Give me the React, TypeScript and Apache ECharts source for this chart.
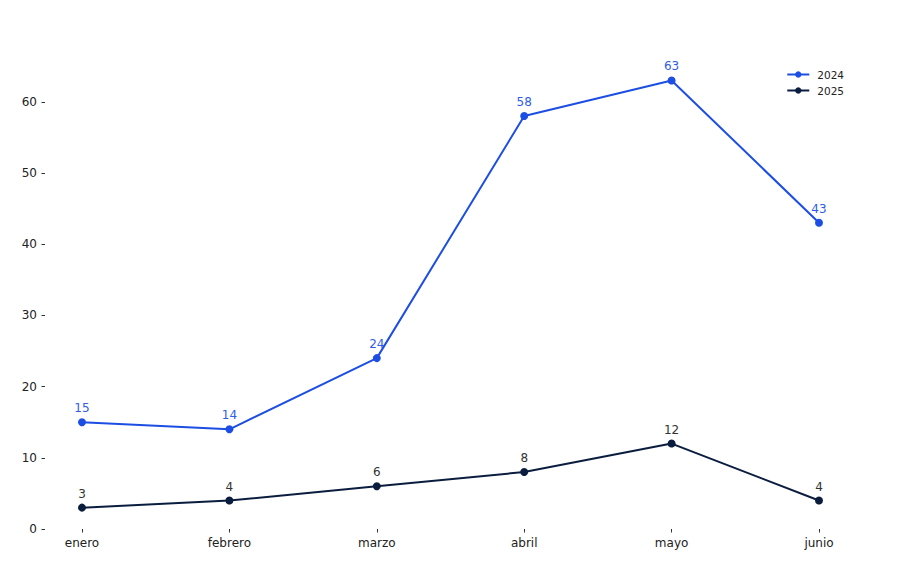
import React, { useEffect, useRef } from "react";
import * as echarts from "echarts";

const months = ["enero", "febrero", "marzo", "abril", "mayo", "junio"];
const values2024 = [15, 14, 24, 58, 63, 43];
const values2025 = [3, 4, 6, 8, 12, 4];
const yTicks = [0, 10, 20, 30, 40, 50, 60];

const FONT = "DejaVu Sans";

export default function App() {
  const ref = useRef<HTMLDivElement>(null);
  useEffect(() => {
    if (!ref.current) return;
    const chart = echarts.init(ref.current, null, { renderer: "svg" });
    chart.setOption({
      animation: false,
      backgroundColor: "#ffffff",
      textStyle: { fontFamily: FONT },
      legend: {
        right: 56,
        top: 64,
        orient: "vertical",
        itemWidth: 22,
        itemHeight: 8,
        itemGap: 5,
        textStyle: { fontFamily: FONT, fontSize: 10.5, color: "#222", padding: [0, 0, 0, 3] },
        data: ["2024", "2025"],
      },
      grid: { left: 82, right: 86, top: 58, bottom: 58 },
      xAxis: {
        type: "category",
        data: months,
        boundaryGap: false,
        axisLine: { show: false },
        axisTick: { show: true, length: 3.5, lineStyle: { color: "#333" } },
        axisLabel: { fontFamily: FONT, fontSize: 12, color: "#222", margin: 8 },
        splitLine: { show: false },
      },
      yAxis: {
        type: "value",
        min: 0,
        max: 66.15,
        interval: 10,
        offset: 37,
        axisLine: { show: false },
        axisTick: { show: true, length: 3.5, lineStyle: { color: "#333" }, customValues: yTicks },
        axisLabel: { fontFamily: FONT, fontSize: 12, color: "#222", margin: 8, customValues: yTicks },
        splitLine: { show: false },
      },
      series: [
        {
          name: "2024",
          type: "line",
          data: values2024,
          color: "#1c4ee3",
          symbol: "circle",
          symbolSize: 8,
          lineStyle: { width: 2, color: "#1c4ee3" },
          label: {
            show: true,
            position: "top",
            distance: 4,
            color: "#2f5de6",
            fontFamily: FONT,
            fontSize: 12,
          },
        },
        {
          name: "2025",
          type: "line",
          data: values2025,
          color: "#0b1d3f",
          symbol: "circle",
          symbolSize: 8,
          lineStyle: { width: 2, color: "#0b1d3f" },
          label: {
            show: true,
            position: "top",
            distance: 4,
            color: "#333333",
            fontFamily: FONT,
            fontSize: 12,
          },
        },
      ],
    });
    return () => chart.dispose();
  }, []);
  return <div ref={ref} style={{ width: 905, height: 587, position: "absolute", left: 0, top: 0 }} />;
}
